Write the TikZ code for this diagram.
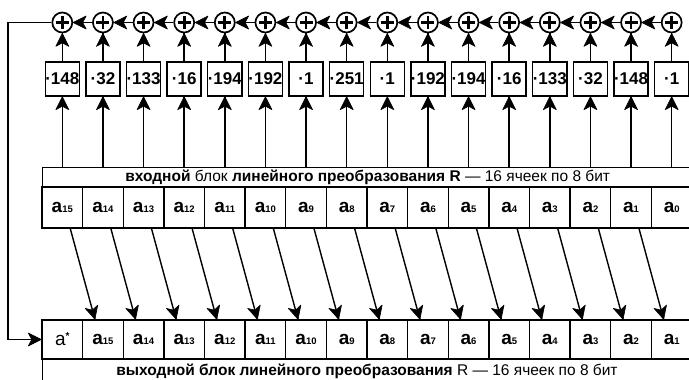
\documentclass[tikz,border=0pt]{standalone}
\usepackage{fontspec}
\setmainfont{Liberation Sans}
\usetikzlibrary{decorations.markings}
\newcommand\alab[1]{{\fontsize{19}{19}\selectfont\bfseries a}{\fontsize{9.5}{9.5}\selectfont\bfseries #1}}
\begin{document}
\begin{tikzpicture}[x=1pt,y=-1pt,
  line width=1.4pt,
  arr/.style={line width=1.4pt,postaction={decorate},
    decoration={markings,mark=at position 1 with {\filldraw[line width=0.6pt,line join=round]
      (0pt,0pt) -- (-13pt,6.5pt) -- (-9.5pt,0pt) -- (-13pt,-6.5pt) -- cycle;}}},
  cell/.style={draw,minimum width=40.625pt,minimum height=41pt,inner sep=0pt},
  ocell/.style={draw,minimum width=40.625pt,minimum height=39pt,inner sep=0pt},
  mbox/.style={draw,minimum width=34pt,minimum height=34pt,inner sep=0pt,font=\fontsize{17}{17}\selectfont\bfseries},
  sum/.style={draw,circle,minimum size=20pt,inner sep=0pt,line width=1.7pt,
    path picture={\draw[line width=2.8pt]
      ([xshift=-6.5pt]path picture bounding box.center) -- ([xshift=6.5pt]path picture bounding box.center)
      ([yshift=-6.5pt]path picture bounding box.center) -- ([yshift=6.5pt]path picture bounding box.center);}},
  titlerow/.style={draw,minimum width=650pt,minimum height=20pt,inner sep=0pt,anchor=north west,font=\fontsize{15.5}{15.5}\selectfont}
]
\useasboundingbox (0,0) rectangle (689,380);
\clip (0,0) rectangle (689,380);
% input block
\node[titlerow] (intitle) at (42,167) {\textbf{входной} блок \textbf{линейного преобразования R} — 16 ячеек по 8 бит};
\foreach \i/\lab in {0/15,1/14,2/13,3/12,4/11,5/10,6/9,7/8,8/7,9/6,10/5,11/4,12/3,13/2,14/1,15/0}
  \node[cell] (in\i) at ({62.3+40.625*\i},207.5) {\alab{\lab}};
% output block
\node[ocell] (out0) at (62.3,339.5) {{\fontsize{19}{19}\selectfont a}\raisebox{6pt}{\fontsize{10}{10}\selectfont\bfseries *}};
\foreach \i/\lab in {1/15,2/14,3/13,4/12,5/11,6/10,7/9,8/8,9/7,10/6,11/5,12/4,13/3,14/2,15/1}
  \node[ocell] (out\i) at ({62.3+40.625*\i},339.5) {\alab{\lab}};
\node[draw,minimum width=650pt,minimum height=30pt,inner sep=0pt,anchor=north west] (outtitle) at (42,359) {};
\node[font=\fontsize{15.5}{15.5}\selectfont] (outtext) at (367,371.5) {\textbf{выходной блок линейного преобразования} R — 16 ячеек по 8 бит};
% multipliers and adders
\foreach \i/\v in {0/148,1/32,2/133,3/16,4/194,5/192,6/1,7/251,8/1,9/192,10/194,11/16,12/133,13/32,14/148,15/1} {
  \node[mbox] (m\i) at ({62.3+40.625*\i},79) {·\v};
  \node[sum] (s\i) at ({62.3+40.625*\i},22.5) {};
  \draw[arr] (m\i.north) -- (s\i.south);
  \draw[arr] (m\i.south |- intitle.north) -- (m\i.south);
}
\foreach \i [evaluate=\i as \j using int(\i+1)] in {0,...,14} {
  \draw[arr] (s\j.west) -- (s\i.east);
  \draw[arr] ([xshift=8pt]in\i.south) -- ([xshift=-8pt]out\j.north);
}
% feedback
\coordinate (fb) at (8,22.5);
\draw[arr] (s0.west) -- (fb) |- (out0.west);
\end{tikzpicture}
\end{document}
